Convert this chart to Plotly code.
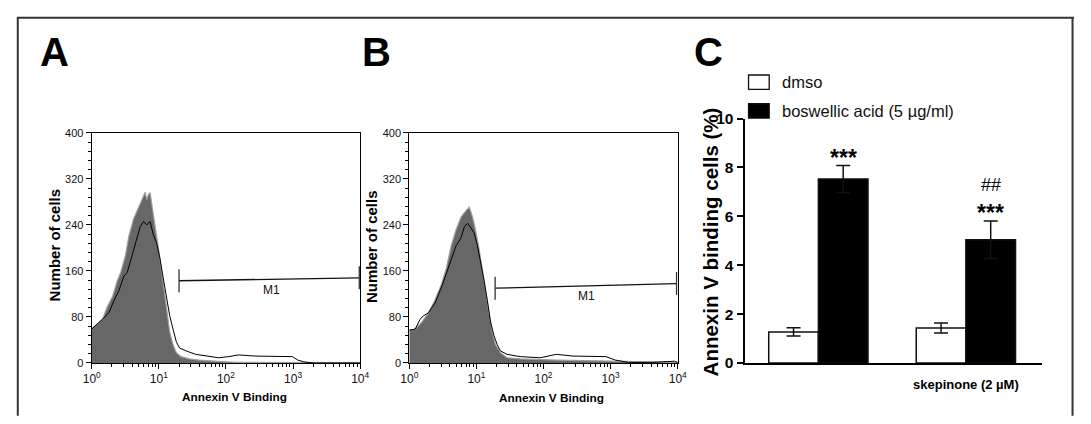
import math
import plotly.graph_objects as go

# page is rendered with an 8px body margin; build the figure to fit inside it
OFF = 8
W, H = 1091 - 2 * OFF, 424 - 2 * OFF

# ---------------- data ----------------
# Panel A histogram (log10 of Annexin V intensity, counts)
a_fill_log = [0, .088, .161, .234, .308, .381, .43, .503, .552, .625, .699, .747, .796, .82, .845, .87,
              .918, .967, 1.016, 1.065, 1.114, 1.162, 1.211, 1.26, 1.333, 1.455, 1.6, 1.8, 2.0, 2.2, 4.0]
a_fill_cnt = [59, 68, 76, 98, 115, 143, 157, 187, 220, 251, 271, 287, 297, 284, 293, 296,
              254, 220, 182, 137, 93, 54, 32, 18, 11, 7, 5, 3, 2, 1, 0]
a_line_log = [0, .088, .161, .259, .333, .406, .479, .528, .601, .674, .723, .772, .82, .87, .918, .967,
              1.016, 1.065, 1.114, 1.162, 1.211, 1.26, 1.309, 1.406, 1.55, 1.7, 1.89, 2.04, 2.19, 2.43,
              2.68, 2.92, 2.99, 3.07, 3.16, 3.3, 4.0]
a_line_cnt = [59, 68, 76, 88, 109, 126, 151, 157, 187, 215, 237, 246, 240, 246, 223, 209,
              182, 148, 115, 82, 59, 37, 26, 21, 15, 12, 9, 11, 14, 12,
              12, 12, 11, 5, 2, 0, 0]
a_gate_x = [20, 9700]
a_gate_y = [143, 148]
a_m1_x = 480
a_m1_y = 127

# Panel B histogram
b_fill_log = [0, .088, .186, .283, .381, .479, .552, .625, .698, .772, .845, .894, .942, .991, 1.04,
              1.09, 1.138, 1.187, 1.236, 1.284, 1.357, 1.455, 1.66, 2.2, 2.63, 3.12, 3.85, 4.0]
b_fill_cnt = [57, 59, 71, 87, 109, 137, 165, 204, 232, 254, 265, 271, 254, 229, 198,
              165, 126, 87, 54, 32, 18, 9, 7, 5, 4, 2, 1, 1]
b_line_log = [0, .088, .161, .21, .283, .381, .479, .552, .625, .698, .772, .82, .87, .918, .967,
              1.016, 1.065, 1.114, 1.162, 1.211, 1.26, 1.309, 1.357, 1.455, 1.6, 1.66, 1.95, 2.19,
              2.44, 2.63, 2.93, 3.07, 3.27, 3.6, 3.95, 4.0]
b_line_cnt = [57, 59, 76, 82, 87, 104, 132, 157, 182, 204, 218, 237, 243, 234, 226,
              204, 176, 143, 109, 71, 48, 32, 21, 15, 12, 11, 9, 15,
              12, 12, 11, 5, 1, 1, 3, 1]
b_gate_x = [19, 9600]
b_gate_y = [130, 138]
b_m1_x = 440
b_m1_y = 117

hist_yticks = [0, 80, 160, 240, 320, 400]
hist_xticks = [1, 10, 100, 1000, 10000]
hist_xticktext = ["10<sup>0</sup>", "10<sup>1</sup>", "10<sup>2</sup>", "10<sup>3</sup>", "10<sup>4</sup>"]

# Panel C bars
groups = ["", "skepinone (2 µM)"]
series_names = ["dmso", "boswellic acid (5 µg/ml)"]
dmso_mean = [1.27, 1.43]
dmso_err = [0.17, 0.20]
ba_mean = [7.53, 5.04]
ba_err = [0.55, 0.77]
ba_marks = ["***", "***"]
ba_marks2 = ["", "##"]
c_yticks = [0, 2, 4, 6, 8, 10]

# ---------------- helpers (page pixel -> paper) ----------------
def px(x):
    return (x - OFF) / W

def py(y):
    return 1 - (y - OFF) / H

ARIAL = "Liberation Sans, Arial, Helvetica, sans-serif"

fig = go.Figure()

def hist_panel(idx, fill_log, fill_cnt, line_log, line_cnt, gx, gy, m1x, m1y):
    xa = "x" if idx == 1 else f"x{idx}"
    ya = "y" if idx == 1 else f"y{idx}"
    fig.add_trace(go.Scatter(x=[10 ** v for v in fill_log], y=fill_cnt, mode="lines",
                             fill="tozeroy", fillcolor="#676767",
                             line=dict(color="#a0a0a0", width=1.2),
                             xaxis=xa, yaxis=ya, showlegend=False, hoverinfo="skip"))
    fig.add_trace(go.Scatter(x=[10 ** v for v in line_log], y=line_cnt, mode="lines",
                             line=dict(color="#000000", width=1),
                             xaxis=xa, yaxis=ya, showlegend=False, hoverinfo="skip"))
    # gate M1
    fig.add_trace(go.Scatter(x=gx, y=gy, mode="lines", line=dict(color="#111", width=1.3),
                             xaxis=xa, yaxis=ya, showlegend=False, hoverinfo="skip"))
    for xv, yv in zip(gx, gy):
        fig.add_trace(go.Scatter(x=[xv, xv], y=[yv - 20, yv + 20], mode="lines",
                                 line=dict(color="#333", width=1.3),
                                 xaxis=xa, yaxis=ya, showlegend=False, hoverinfo="skip"))
    fig.add_annotation(x=math.log10(m1x), y=m1y, xref=xa, yref=ya, text="M1", showarrow=False,
                       font=dict(family=ARIAL, size=12, color="#111"))

hist_panel(1, a_fill_log, a_fill_cnt, a_line_log, a_line_cnt, a_gate_x, a_gate_y, a_m1_x, a_m1_y)
hist_panel(2, b_fill_log, b_fill_cnt, b_line_log, b_line_cnt, b_gate_x, b_gate_y, b_m1_x, b_m1_y)

# Panel C bars
fig.add_trace(go.Bar(x=groups, y=dmso_mean, name=series_names[0], xaxis="x3", yaxis="y3",
                     marker=dict(color="white", line=dict(color="#111", width=1.5)),
                     error_y=dict(type="data", array=dmso_err, color="#111", thickness=1.5, width=7),
                     showlegend=False))
fig.add_trace(go.Bar(x=groups, y=ba_mean, name=series_names[1], xaxis="x3", yaxis="y3",
                     marker=dict(color="black", line=dict(color="#111", width=1.5)),
                     error_y=dict(type="data", array=ba_err, color="#111", thickness=1.5, width=7),
                     showlegend=False))

for i in range(len(groups)):
    top = ba_mean[i] + ba_err[i]
    fig.add_annotation(x=i + 0.168, y=top, xref="x3", yref="y3", text=f"<b>{ba_marks[i]}</b>",
                       showarrow=False, yanchor="bottom", yshift=-7.5,
                       font=dict(family=ARIAL, size=23, color="black"))
    if ba_marks2[i]:
        fig.add_annotation(x=i + 0.168, y=top, xref="x3", yref="y3", text=ba_marks2[i], showarrow=False,
                           yanchor="bottom", yshift=24, font=dict(family=ARIAL, size=18, color="black"))

# legend (manual)
leg_y = [76, 106]
leg_fill = ["white", "black"]
for name, yy, col in zip(series_names, leg_y, leg_fill):
    fig.add_shape(type="rect", xref="paper", yref="paper", x0=px(752), x1=px(773),
                  y0=py(yy - 7.5), y1=py(yy + 7.5), fillcolor=col, line=dict(color="#111", width=1.3))
    fig.add_annotation(x=px(784), y=py(yy), xref="paper", yref="paper", text=name, showarrow=False,
                       xanchor="left", yanchor="middle", font=dict(family=ARIAL, size=16.5, color="#111"))

# ---------------- axes ----------------
hist_y_dom = [py(369), py(129)]

def hist_xaxis(xdom, anchor):
    return dict(type="log", range=[0, 4], domain=xdom, anchor=anchor, showline=True, linecolor="black",
                linewidth=1.2, mirror=True, ticks="outside", ticklen=5, tickwidth=1, tickcolor="black",
                tickvals=hist_xticks, ticktext=hist_xticktext, showgrid=False, zeroline=False,
                tickfont=dict(family=ARIAL, size=12, color="#111"),
                minor=dict(ticks="outside", ticklen=3, tickwidth=1, tickcolor="black", dtick="D1",
                           showgrid=False))

def hist_yaxis(anchor):
    return dict(range=[0, 400], domain=hist_y_dom, anchor=anchor, showline=True, linecolor="black",
                linewidth=1.2, mirror=True, ticks="outside", ticklen=5, tickwidth=1, tickcolor="black",
                tickvals=hist_yticks, showgrid=False, zeroline=False,
                tickfont=dict(family=ARIAL, size=11, color="#111"),
                minor=dict(ticks="outside", ticklen=3, tickwidth=1, tickcolor="black", dtick=16,
                           showgrid=False))

fig.update_layout(
    xaxis=hist_xaxis([px(84), px(357)], "y"),
    yaxis=hist_yaxis("x"),
    xaxis2=hist_xaxis([px(407), px(680)], "y2"),
    yaxis2=hist_yaxis("x2"),
    xaxis3=dict(domain=[px(748), px(1050)], range=[-0.5, 1.513], anchor="y3", type="category",
                showline=True, linecolor="black", linewidth=2.2, ticks="", showgrid=False, zeroline=False,
                ticklabelstandoff=8,
                tickfont=dict(family=ARIAL, size=13, color="black", weight="bold")),
    yaxis3=dict(domain=[py(369), py(114)], range=[0, 10], anchor="x3", showline=True, linecolor="black",
                linewidth=2.2, ticks="outside", ticklen=6, tickwidth=2, tickcolor="black",
                tickvals=c_yticks, showgrid=False, zeroline=False,
                tickfont=dict(family=ARIAL, size=15.5, color="black", weight="bold")),
    barmode="group", bargap=0.327, bargroupgap=0,
    width=W, height=H, autosize=False,
    margin=dict(l=0, r=0, t=0, b=0),
    paper_bgcolor="white", plot_bgcolor="white",
)

# assign panel B traces to second axes pair
for tr in fig.data[5:10]:
    tr.update(xaxis="x2", yaxis="y2")

# axis titles as annotations
titles = [
    ("Number of cells", 46, 246, -90, 15),
    ("Number of cells", 368, 247, -90, 15),
    ("Annexin V Binding", 229, 404, 0, 11.8),
    ("Annexin V Binding", 552, 406, 0, 11.8),
    ("Annexin V binding cells (%)", 713, 243, -90, 20.5),
]
for t, x, y, ang, sz in titles:
    fig.add_annotation(x=px(x), y=py(y), xref="paper", yref="paper", text=f"<b>{t}</b>", showarrow=False,
                       textangle=ang, xanchor="center", yanchor="middle",
                       font=dict(family=ARIAL, size=sz, color="black"))

# panel letters
for lab, x in [("A", 46), ("B", 374), ("C", 711)]:
    fig.add_annotation(x=px(x), y=py(44), xref="paper", yref="paper", text=f"<b>{lab}</b>", showarrow=False,
                       xanchor="center", yanchor="middle", font=dict(family=ARIAL, size=40, color="black"))

# outer frame (top, left, right)
for x0, y0, x1, y1 in [(8, 8.8, 1083, 8.8), (8.8, 8, 8.8, 424), (1081.5, 8, 1081.5, 424)]:
    fig.add_shape(type="line", xref="paper", yref="paper", x0=px(x0), y0=py(y0), x1=px(x1), y1=py(y1),
                  line=dict(color="#333", width=2))

fig.write_html("out.html", config={"displayModeBar": False})
